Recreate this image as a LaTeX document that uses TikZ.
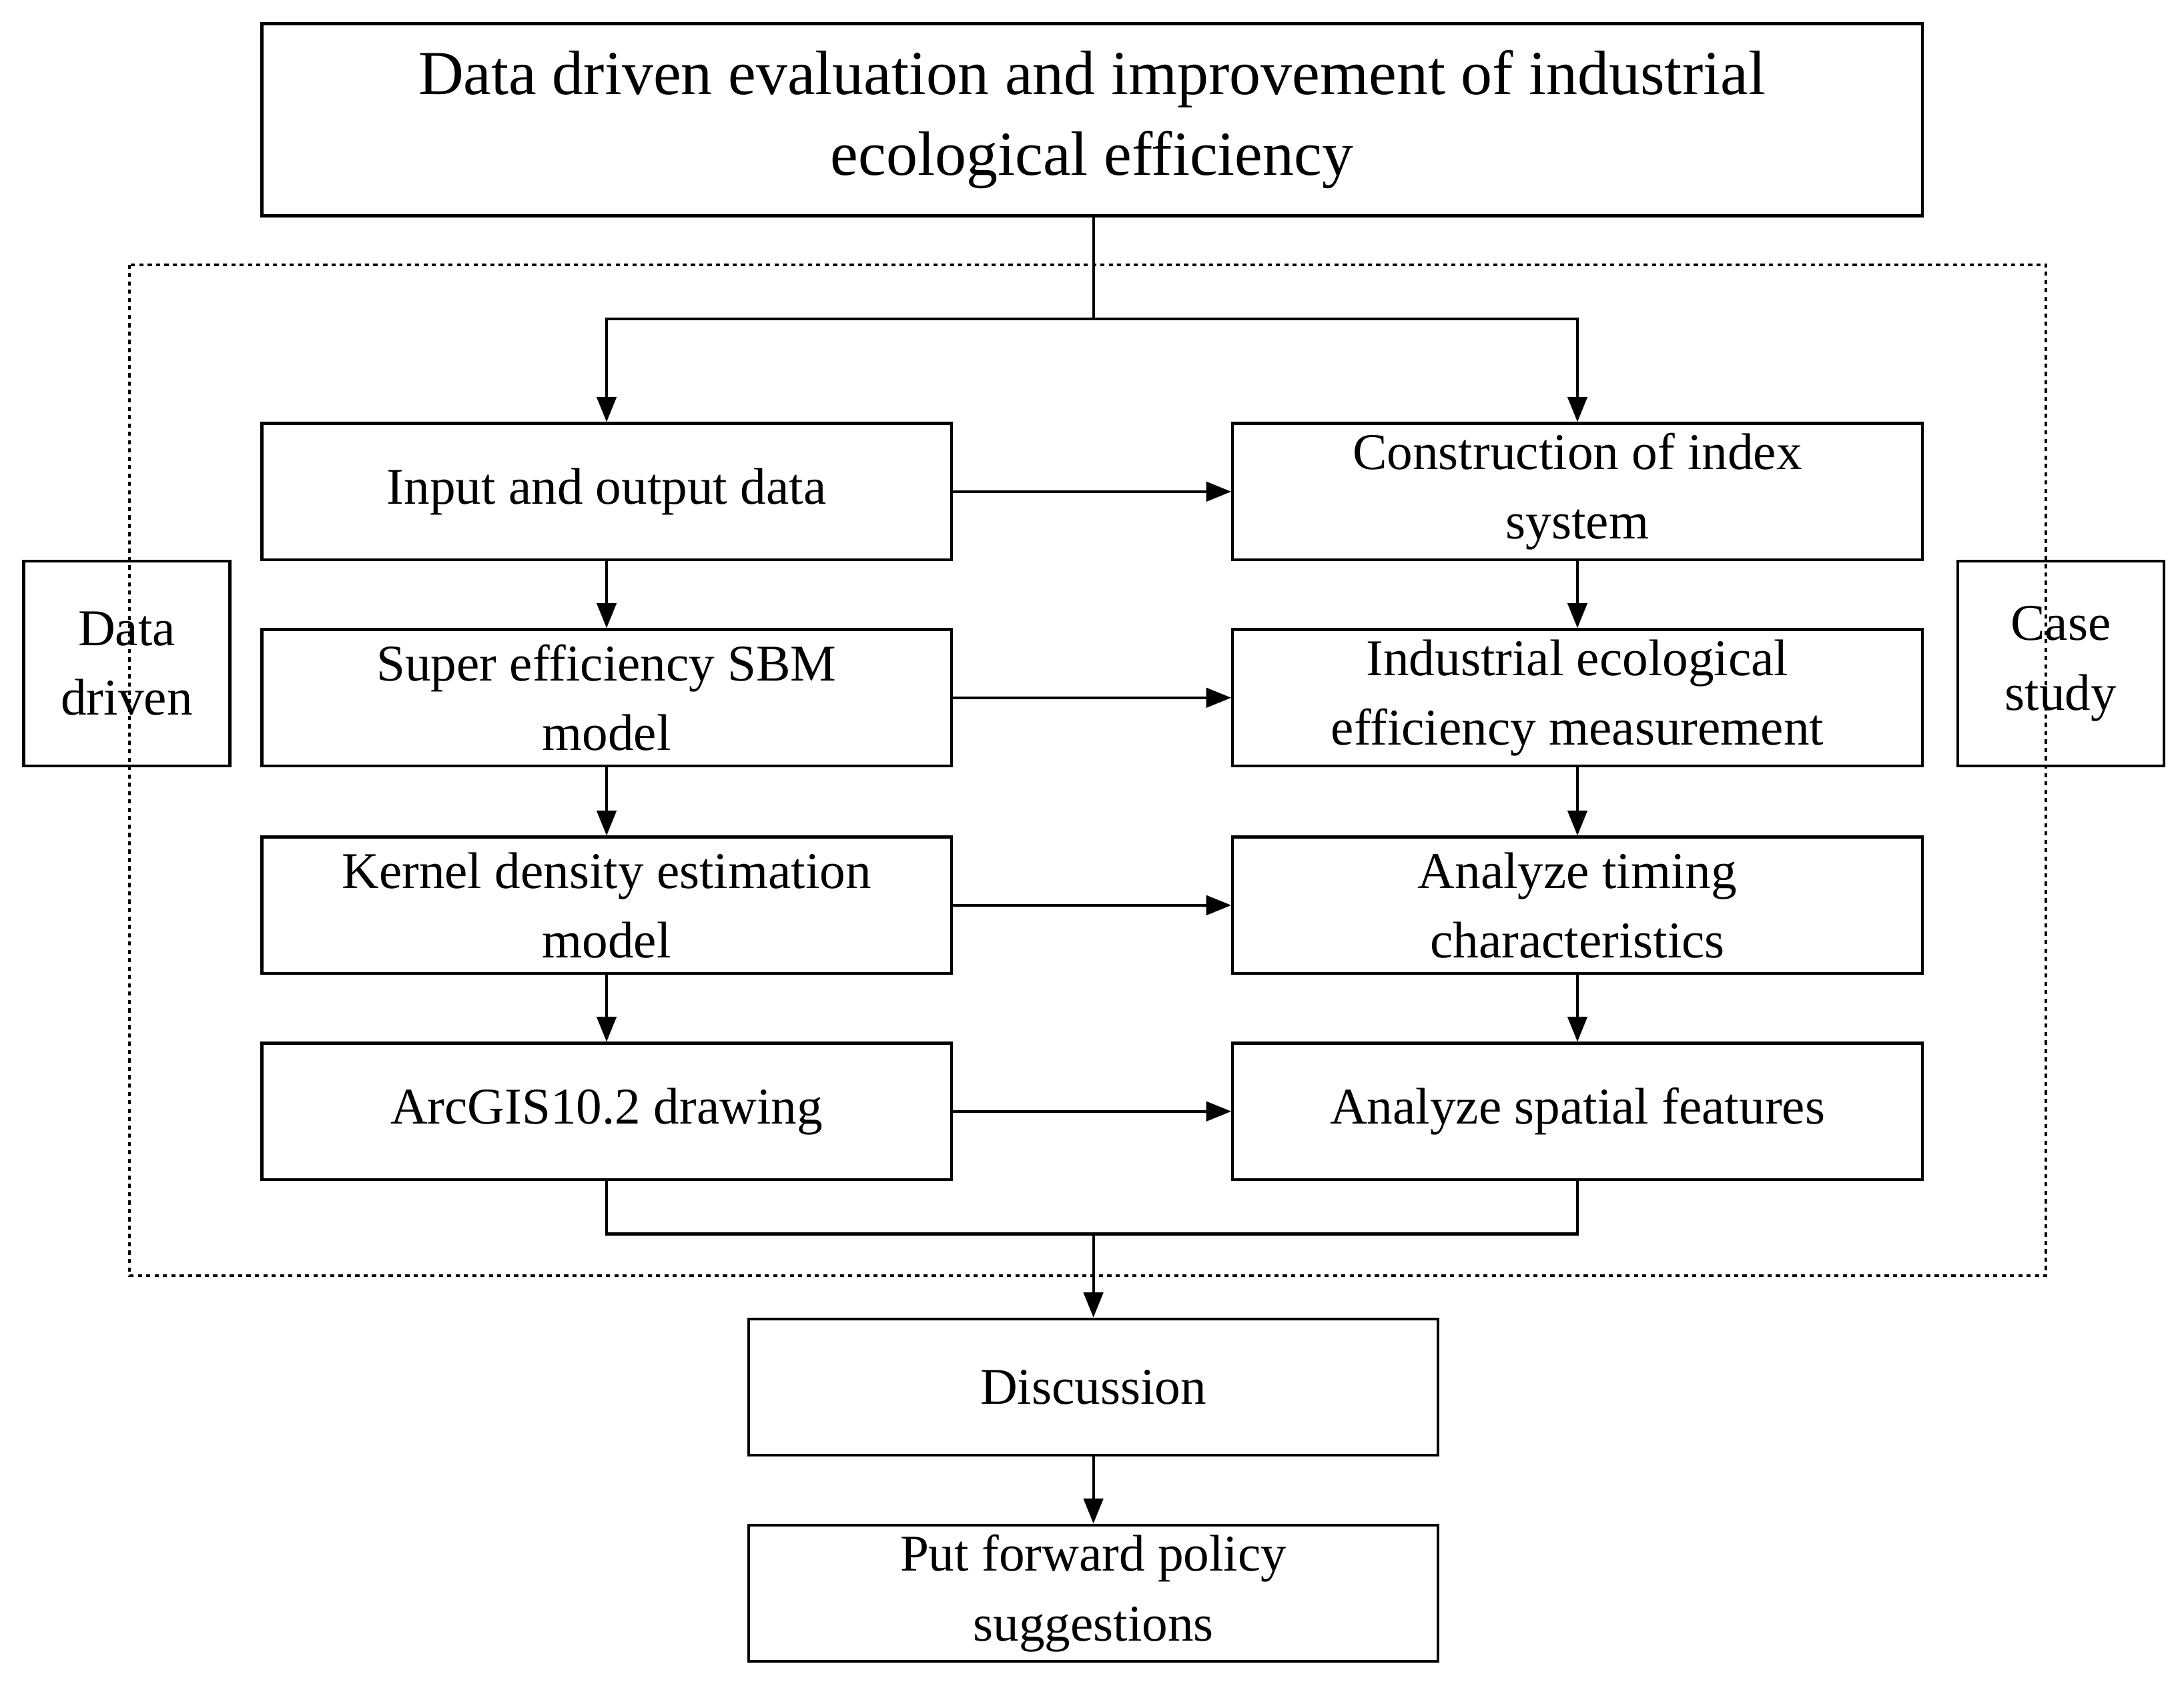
\documentclass[tikz,border=0pt]{standalone}
\usepackage{fontspec}
\setmainfont{Liberation Serif}
\usetikzlibrary{arrows.meta}
\begin{document}
\begin{tikzpicture}[x=1pt,y=-1pt,line width=2pt,
  box/.style={draw,rectangle,minimum width=495pt,minimum height=98pt,align=center,font=\fontsize{37}{50}\selectfont,inner sep=0pt},
  side/.style={draw,rectangle,minimum width=148pt,minimum height=147pt,align=center,font=\fontsize{37}{50}\selectfont,inner sep=0pt},
  arr/.style={-{Triangle[length=18pt,width=14pt]}}]
\useasboundingbox (0,0) rectangle (1568,1209);
\draw[dashed] (93,190) rectangle (1469,916);
\node[draw,minimum width=1192pt,minimum height=138pt,align=center,inner sep=0pt,font=\fontsize{45}{58}\selectfont] (t) at (784,86) {Data driven evaluation and improvement of industrial\\ecological efficiency};
\node[box] (l1) at (435.5,353) {Input and output data};
\node[box] (l2) at (435.5,501) {Super efficiency SBM\\model};
\node[box] (l3) at (435.5,650) {Kernel density estimation\\model};
\node[box] (l4) at (435.5,798) {ArcGIS10.2 drawing};
\node[box] (r1) at (1132.5,353) {Construction of index\\system};
\node[box] (r2) at (1132.5,501) {Industrial ecological\\efficiency measurement};
\node[box] (r3) at (1132.5,650) {Analyze timing\\characteristics};
\node[box] (r4) at (1132.5,798) {Analyze spatial features};
\node[side] (dd) at (91,476.5) {Data\\driven};
\node[side] (cs) at (1479.5,476.5) {Case\\study};
\node[box] (d) at (785,996) {Discussion};
\node[box] (p) at (785,1144) {Put forward policy\\suggestions};
\coordinate (s) at (785,229);
\draw (t.south -| s) -- (s);
\draw[arr] (s) -| (l1.north);
\draw[arr] (s) -| (r1.north);
\foreach \a/\b in {l1/l2,l2/l3,l3/l4,r1/r2,r2/r3,r3/r4,d/p}{\draw[arr] (\a.south) -- (\b.north);}
\foreach \a/\b in {l1/r1,l2/r2,l3/r3,l4/r4}{\draw[arr] (\a.east) -- (\b.west);}
\coordinate (m) at (785,886);
\draw (l4.south) |- (m) -| (r4.south);
\draw[arr] (m) -- (d.north);
\end{tikzpicture}
\end{document}
